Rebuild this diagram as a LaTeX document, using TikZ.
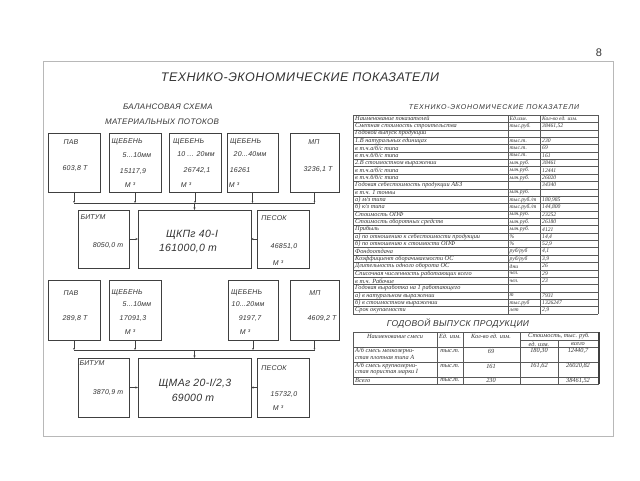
\documentclass[tikz,border=0pt]{standalone}
\usepackage{fontspec}
\setmainfont{Liberation Sans}
\newfontfamily\tabfont{Liberation Serif}
\usetikzlibrary{arrows.meta}
\definecolor{linec}{gray}{0.25}
\definecolor{textc}{gray}{0.2}
\definecolor{framec}{gray}{0.72}
\definecolor{tabc}{gray}{0.35}
\newcommand\trow[4]{%
  \node[tc] (ra#1) at (355,{115+(#1-0.5)*7.37}) {#2};
  \node[tcs] (rb#1) at (509.5,{115+(#1-0.5)*7.37}) {#3};
  \node[tcs] (rc#1) at (542,{115+(#1-0.5)*7.37}) {#4};}
\begin{document}
\begin{tikzpicture}[x=1pt,y=-1pt,
  box/.style={draw=linec,line width=0.7pt,rectangle,inner sep=0pt,outer sep=0pt,anchor=north west},
  lbl/.style={font=\fontsize{7}{8}\selectfont\itshape\addfontfeature{LetterSpace=3},text=textc,inner sep=0pt},
  lblw/.style={lbl,anchor=west},
  big/.style={font=\fontsize{10.5}{12}\selectfont\itshape\addfontfeature{LetterSpace=3},text=textc,inner sep=0pt},
  tick/.style={draw=linec,line width=0.6pt,-{Stealth[length=2pt,width=1.6pt]}},
  bus/.style={draw=linec,line width=0.6pt},
  arr/.style={draw=linec,line width=0.6pt,-{Stealth[length=2.5pt,width=2pt]}},
  tl/.style={draw=tabc,line width=0.35pt},
  tc/.style={font=\tabfont\fontsize{6.3}{7}\selectfont\itshape,text=textc,inner sep=0pt,anchor=west},
  tcs/.style={font=\tabfont\fontsize{5.6}{7}\selectfont\itshape,text=textc,inner sep=0pt,anchor=west},
  tcc/.style={font=\tabfont\fontsize{6.3}{7}\selectfont\itshape,text=textc,inner sep=0pt},
]
\useasboundingbox (0,0) rectangle (640,480);
\fill[white] (0,0) rectangle (640,480);
\draw[framec,line width=0.8pt] (43,61) rectangle (613,436);
\node[font=\fontsize{11}{12}\selectfont,text=textc,inner sep=0pt] (pg) at (599,53) {8};

\node[font=\fontsize{12.5}{14}\selectfont\itshape\addfontfeature{LetterSpace=4},text=textc,inner sep=0pt] (title) at (300,77) {ТЕХНИКО-ЭКОНОМИЧЕСКИЕ ПОКАЗАТЕЛИ};
\node[font=\fontsize{8}{9}\selectfont\itshape\addfontfeature{LetterSpace=4},text=textc,inner sep=0pt] (bs1) at (168,107) {БАЛАНСОВАЯ СХЕМА};
\node[font=\fontsize{8}{9}\selectfont\itshape\addfontfeature{LetterSpace=4},text=textc,inner sep=0pt] (bs2) at (162,122) {МАТЕРИАЛЬНЫХ ПОТОКОВ};

% ---------- upper scheme ----------
\node[box,minimum width=52pt,minimum height=59pt] (pav1) at (48,133) {};
\node[box,minimum width=52pt,minimum height=59pt] (sh1a) at (109,133) {};
\node[box,minimum width=52pt,minimum height=59pt] (sh1b) at (169,133) {};
\node[box,minimum width=51pt,minimum height=59pt] (sh1c) at (227,133) {};
\node[box,minimum width=49pt,minimum height=59pt] (mp1) at (290,133) {};
\node[box,minimum width=51pt,minimum height=58pt] (bit1) at (78,210) {};
\node[box,minimum width=113pt,minimum height=58pt] (main1) at (138,210) {};
\node[box,minimum width=52pt,minimum height=58pt] (pes1) at (257,210) {};

\node[lbl] (l1) at (71,142) {ПАВ};
\node[lbl] (l2) at (75,168) {603,8 Т};
\node[lblw] (l3) at (111.5,142) {ЩЕБЕНЬ};
\node[lbl] (l4) at (137,155) {5...10мм};
\node[lbl] (l5) at (133,171) {15117,9};
\node[lbl] (l6) at (130,185) {М ³};
\node[lblw] (l7) at (173,142) {ЩЕБЕНЬ};
\node[lbl] (l8) at (196,154) {10 ... 20мм};
\node[lbl] (l9) at (197,170) {26742,1};
\node[lbl] (l10) at (186,185) {М ³};
\node[lblw] (l11) at (230,142) {ЩЕБЕНЬ};
\node[lbl] (l12) at (250,154) {20...40мм};
\node[lbl] (l13) at (240,170) {16261};
\node[lbl] (l14) at (234,185) {М ³};
\node[lbl] (l15) at (314,142) {МП};
\node[lbl] (l16) at (318,169) {3236,1 Т};

\node[lbl] (l17) at (93,217) {БИТУМ};
\node[lbl] (l18) at (108,245) {8050,0 т};
\node[big] (l19) at (192,235) {ЩКПг 40-I};
\node[big] (l20) at (188,248) {161000,0 т};
\node[lbl] (l21) at (274,218) {ПЕСОК};
\node[lbl] (l22) at (284,246) {46851,0};
\node[lbl] (l23) at (278,263) {М ³};

\coordinate (b1) at (195,203);
\foreach \n in {pav1,sh1a,sh1b,sh1c,mp1} \draw[tick] (\n.south) -- (\n.south |- b1);
\draw[bus] (pav1.south |- b1) -- (mp1.south |- b1);
\draw[arr] (main1.north |- b1) -- (main1.north);
\draw[arr] (bit1.east) -- (main1.west);
\draw[arr] (pes1.west) -- (main1.east);

% ---------- lower scheme ----------
\node[box,minimum width=52pt,minimum height=60pt] (pav2) at (48,280) {};
\node[box,minimum width=52pt,minimum height=60pt] (sh2a) at (109,280) {};
\node[box,minimum width=50pt,minimum height=60pt] (sh2b) at (228,280) {};
\node[box,minimum width=49pt,minimum height=60pt] (mp2) at (290,280) {};
\node[box,minimum width=51pt,minimum height=59pt] (bit2) at (78,358) {};
\node[box,minimum width=113pt,minimum height=59pt] (main2) at (138,358) {};
\node[box,minimum width=52pt,minimum height=59pt] (pes2) at (257,358) {};

\node[lbl] (m1) at (71,293) {ПАВ};
\node[lbl] (m2) at (75,318) {289,8 Т};
\node[lblw] (m3) at (111.5,293) {ЩЕБЕНЬ};
\node[lbl] (m4) at (137,304) {5...10мм};
\node[lbl] (m5) at (133,318) {17091,3};
\node[lbl] (m6) at (130,332) {М ³};
\node[lblw] (m7) at (231,293) {ЩЕБЕНЬ};
\node[lbl] (m8) at (248,304) {10...20мм};
\node[lbl] (m9) at (250,318) {9197,7};
\node[lbl] (m10) at (245,332) {М ³};
\node[lbl] (m11) at (315,293) {МП};
\node[lbl] (m12) at (322,318) {4609,2 Т};

\node[lbl] (m13) at (92,363) {БИТУМ};
\node[lbl] (m14) at (108,392) {3870,9 т};
\node[big] (m15) at (195,384) {ЩМАг 20-I/2,3};
\node[big] (m16) at (193,398) {69000 т};
\node[lbl] (m17) at (274,368) {ПЕСОК};
\node[lbl] (m18) at (284,394) {15732,0};
\node[lbl] (m19) at (278,408) {М ³};

\coordinate (b2) at (195,350);
\foreach \n in {pav2,sh2a,sh2b,mp2} \draw[tick] (\n.south) -- (\n.south |- b2);
\draw[bus] (pav2.south |- b2) -- (mp2.south |- b2);
\draw[arr] (main2.north |- b2) -- (main2.north);
\draw[arr] (bit2.east) -- (main2.west);
\draw[arr] (pes2.west) -- (main2.east);

% ---------- table 1 ----------
\node[font=\fontsize{7}{8}\selectfont\itshape\addfontfeature{LetterSpace=11},text=textc,inner sep=0pt] (t1title) at (494,107) {ТЕХНИКО-ЭКОНОМИЧЕСКИЕ ПОКАЗАТЕЛИ};
\foreach \i in {0,...,27} \draw[tl] (353,{115+\i*7.37}) -- (598,{115+\i*7.37});
\draw[tl] (353,115) -- (353,314);
\draw[tl] (508,115) -- (508,314);
\draw[tl] (540,115) -- (540,314);
\draw[tl] (598,115) -- (598,314);
\trow{1}{Наименование показателей}{Ед.изм.}{Кол-во ед. изм.}
\trow{2}{Сметная стоимость строительства}{тыс.руб.}{38461,52}
\trow{3}{Годовой выпуск продукции}{}{}
\trow{4}{1.В натуральных единицах}{тыс.т.}{230}
\trow{5}{в т.ч.а/б/с типа}{тыс.т.}{69}
\trow{6}{в т.ч.б/б/с типа}{тыс.т.}{161}
\trow{7}{2.В стоимостном выражении}{млн.руб.}{38461}
\trow{8}{в т.ч.а/б/с типа}{млн.руб.}{12441}
\trow{9}{в т.ч.б/б/с типа}{млн.руб.}{26020}
\trow{10}{Годовая себестоимость продукции АБЗ}{}{34340}
\trow{11}{в т.ч. 1 тонны}{млн.руб.}{}
\trow{12}{а) м/з типа}{тыс.руб./т}{180,985}
\trow{13}{б) к/з типа}{тыс.руб./т}{144,800}
\trow{14}{Стоимость ОПФ}{млн.руб.}{23252}
\trow{15}{Стоимость оборотных средств}{млн.руб.}{26180}
\trow{16}{Прибыль}{млн.руб.}{4121}
\trow{17}{а) по отношению к себестоимости продукции}{\%}{14,4}
\trow{18}{б) по отношению к стоимости ОПФ}{\%}{52,9}
\trow{19}{Фондоотдача}{руб/руб}{4,1}
\trow{20}{Коэффициент оборачиваемости ОС}{руб/руб}{3,9}
\trow{21}{Длительность одного оборота ОС}{дни}{26}
\trow{22}{Списочная численность работающих всего}{чел.}{29}
\trow{23}{в т.ч. Рабочие}{чел.}{23}
\trow{24}{Годовая выработка на 1 работающего}{}{}
\trow{25}{а) в натуральном выражении}{т}{7931}
\trow{26}{б) в стоимостном выражении}{тыс.руб}{1326247}
\trow{27}{Срок окупаемости}{лет}{2,9}

% ---------- table 2 ----------
\node[font=\fontsize{8.5}{10}\selectfont\itshape\addfontfeature{LetterSpace=4},text=textc,inner sep=0pt] (t2title) at (458,324) {ГОДОВОЙ ВЫПУСК ПРОДУКЦИИ};
\draw[tl] (353,332) -- (599,332);
\draw[tl] (520,340) -- (599,340);
\draw[tl] (353,347) -- (599,347);
\draw[tl] (353,362) -- (599,362);
\draw[tl] (353,377) -- (599,377);
\draw[tl] (353,384) -- (599,384);
\draw[tl] (353,332) -- (353,384);
\draw[tl] (437,332) -- (437,384);
\draw[tl] (463,332) -- (463,384);
\draw[tl] (520,332) -- (520,384);
\draw[tl] (558,340) -- (558,384);
\draw[draw=linec,line width=1.2pt] (599,332) -- (599,384);
\node[tcc] (h1) at (395,336) {Наименование смеси};
\node[tcc] (h2) at (450,336) {Ед. изм.};
\node[tcc] (h3) at (491,336) {Кол-во ед. изм.};
\node[tcc] (h4) at (559,336) {Стоимость, тыс. руб.};
\node[tcc] (h5) at (539,344) {ед. изм.};
\node[tcc] (h6) at (578,344) {всего};
\node[tc] (s1a) at (355,351) {А/б смесь мелкозерни-};
\node[tc] (s1b) at (355,357.5) {стая плотная типа А};
\node[tcc] (s1c) at (450,351) {тыс.т.};
\node[tcc] (s1d) at (491,351) {69};
\node[tcc] (s1e) at (539,351) {180,30};
\node[tcc] (s1f) at (578,351) {12440,7};
\node[tc] (s2a) at (355,366) {А/б смесь крупнозерни-};
\node[tc] (s2b) at (355,372.5) {стая пористая марки I};
\node[tcc] (s2c) at (450,366) {тыс.т.};
\node[tcc] (s2d) at (491,366) {161};
\node[tcc] (s2e) at (539,366) {161,62};
\node[tcc] (s2f) at (578,366) {26020,82};
\node[tc] (s3a) at (355,380.5) {Всего};
\node[tcc] (s3c) at (450,380.5) {тыс.т.};
\node[tcc] (s3d) at (491,380.5) {230};
\node[tcc] (s3f) at (578,380.5) {38461,52};
\end{tikzpicture}
\end{document}
